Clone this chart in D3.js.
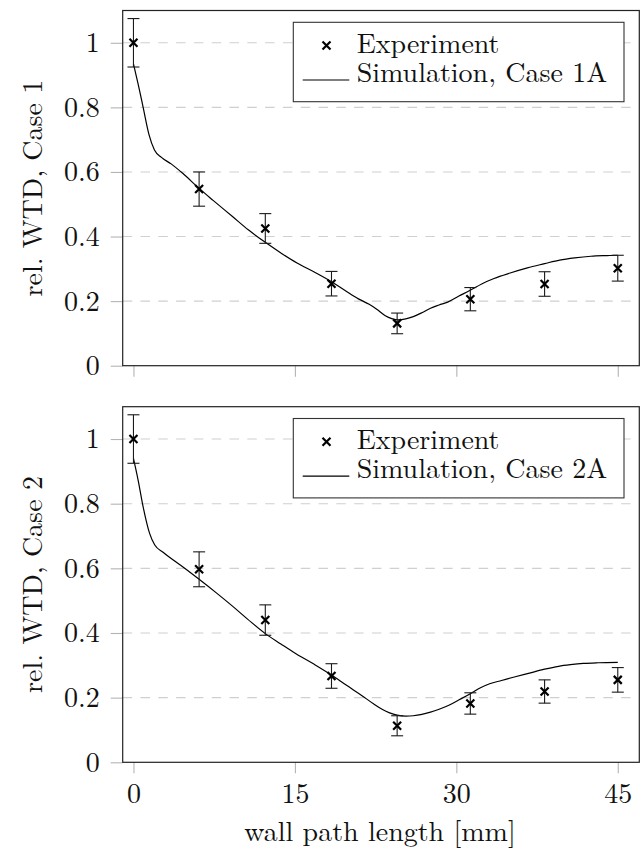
<!DOCTYPE html>
<html>
<head>
<meta charset="utf-8">
<script src="https://cdn.jsdelivr.net/npm/d3@7"></script>
<style>
  html, body { margin: 0; padding: 0; background: #fff; }
  svg { display: block; }
</style>
</head>
<body>
<svg id="chart" width="641" height="849"></svg>
<script>
// ---- data ----
const xTicks = [0, 15, 30, 45];
const xTickLabels = ["0", "15", "30", "45"];
const yTicks = [0, 0.2, 0.4, 0.6, 0.8, 1];
const yTickLabels = ["0", "0.2", "0.4", "0.6", "0.8", "1"];

// measured points (wall path length in mm)
const expX = [0, 6.1, 12.25, 18.4, 24.5, 31.3, 38.2, 45];
const expCase1 = [1.0, 0.547, 0.425, 0.254, 0.131, 0.206, 0.253, 0.302];
const errCase1 = [0.075, 0.053, 0.046, 0.038, 0.032, 0.036, 0.038, 0.040];
const expCase2 = [1.0, 0.597, 0.440, 0.267, 0.113, 0.182, 0.219, 0.255];
const errCase2 = [0.075, 0.054, 0.047, 0.038, 0.031, 0.033, 0.036, 0.038];

// simulated profiles
const simX1 = [0, 0.45, 0.9, 1.45, 1.95, 2.6, 3.5, 4.6, 6.1, 7.4, 9.2, 10.7, 12.25, 13.8, 15.2, 16.8,
  18.4, 19.7, 20.9, 21.9, 22.6, 23.4, 24.0, 24.6, 25.3, 26.0, 26.8, 27.6, 28.4, 29.2, 30.2, 31.2,
  32.4, 33.5, 35.0, 36.6, 38.2, 39.6, 41.0, 42.5, 44.0, 45];
const simCase1 = [0.935, 0.87, 0.80, 0.715, 0.668, 0.645, 0.625, 0.595, 0.549, 0.512, 0.462, 0.42,
  0.382, 0.347, 0.318, 0.29, 0.26, 0.232, 0.207, 0.19, 0.175, 0.155, 0.146, 0.142, 0.145, 0.152,
  0.164, 0.178, 0.188, 0.197, 0.215, 0.232, 0.254, 0.270, 0.287, 0.303, 0.316, 0.327, 0.334,
  0.339, 0.341, 0.342];
const simX2 = [0, 0.45, 0.9, 1.5, 1.98, 2.75, 3.6, 4.6, 6.1, 7.7, 9.2, 10.6, 12.25, 13.7, 15.1, 16.8,
  18.4, 19.8, 21.2, 22.3, 23.1, 23.8, 24.5, 25.3, 26.0, 26.8, 27.6, 28.4, 29.2, 30.3, 31.3, 32.2,
  33.1, 34.2, 35.3, 36.8, 38.2, 39.5, 40.6, 41.8, 43.2, 45];
const simCase2 = [0.94, 0.87, 0.79, 0.708, 0.672, 0.65, 0.628, 0.604, 0.566, 0.524, 0.483, 0.443,
  0.398, 0.366, 0.336, 0.303, 0.27, 0.238, 0.207, 0.181, 0.164, 0.153, 0.146, 0.143, 0.144, 0.148,
  0.155, 0.164, 0.175, 0.194, 0.212, 0.230, 0.243, 0.253, 0.263, 0.276, 0.288, 0.297, 0.302,
  0.306, 0.308, 0.309];

const panels = [
  { yLabel: "rel. WTD, Case 1", simName: "Simulation, Case 1A", exp: expCase1, err: errCase1,
    simX: simX1, sim: simCase1, top: 10.5, bottom: 365.7, xLabels: false },
  { yLabel: "rel. WTD, Case 2", simName: "Simulation, Case 2A", exp: expCase2, err: errCase2,
    simX: simX2, sim: simCase2, top: 406.7, bottom: 762.3, xLabels: true }
];

// ---- layout ----
const FONT = '"Latin Modern Roman", "Liberation Serif", serif';
const FS = "28px";
const left = 122.7, right = 639.3;
const gridColor = "#d0d0d0", tickColor = "#b4b4b4", frameColor = "#222";
const svg = d3.select("#chart");

function styleText(sel) {
  return sel.style("font-family", FONT).style("font-size", FS).attr("fill", "#111");
}

// cross marker centred on the origin
const crossPath = "M-4,-4L4,4M-4,4L4,-4";

const x = d3.scaleLinear().domain([-1, 47]).range([left, right]);

panels.forEach(p => {
  const y = d3.scaleLinear().domain([0, 1.1]).range([p.bottom, p.top]);
  const g = svg.append("g");

  // horizontal dashed grid
  g.append("g").selectAll("line").data(yTicks.filter(d => d > 0)).join("line")
    .attr("x1", left).attr("x2", right)
    .attr("y1", d => y(d)).attr("y2", d => y(d))
    .attr("stroke", gridColor).attr("stroke-width", 1.1)
    .attr("stroke-dasharray", "9.5,8.3");

  // y axis ticks and labels
  const yAxis = d3.axisLeft(y).tickValues(yTicks)
    .tickFormat((d, i) => yTickLabels[i]).tickSize(12).tickPadding(11);
  const ya = g.append("g").attr("transform", `translate(${left},0)`).call(yAxis);
  ya.select(".domain").remove();
  ya.selectAll(".tick line").attr("stroke", tickColor).attr("stroke-width", 1.1);
  styleText(ya.selectAll(".tick text")).attr("dy", "0.32em");

  // x axis ticks (labels on the lower panel only)
  const xAxis = d3.axisBottom(x).tickValues(xTicks)
    .tickFormat((d, i) => p.xLabels ? xTickLabels[i] : "").tickSize(11).tickPadding(12);
  const xa = g.append("g").attr("transform", `translate(0,${p.bottom})`).call(xAxis);
  xa.select(".domain").remove();
  xa.selectAll(".tick line").attr("stroke", tickColor).attr("stroke-width", 1.1);
  styleText(xa.selectAll(".tick text")).attr("dy", "0.644em");

  // frame
  g.append("rect")
    .attr("x", left).attr("y", p.top)
    .attr("width", right - left).attr("height", p.bottom - p.top)
    .attr("fill", "none").attr("stroke", frameColor).attr("stroke-width", 1.2);

  // y axis title
  styleText(g.append("text"))
    .attr("transform", `translate(41.5,${(p.top + p.bottom) / 2}) rotate(-90)`)
    .attr("text-anchor", "middle").text(p.yLabel);

  // simulation curve
  const line = d3.line().x(d => x(d[0])).y(d => y(d[1])).curve(d3.curveMonotoneX);
  g.append("path")
    .datum(p.simX.map((v, i) => [v, p.sim[i]]))
    .attr("d", line).attr("fill", "none").attr("stroke", "#000").attr("stroke-width", 1.2);

  // experiment: error bars + cross markers
  const pts = expX.map((v, i) => ({ x: v, y: p.exp[i], e: p.err[i] }));
  const eb = g.append("g").attr("stroke", "#1a1a1a").attr("stroke-width", 1.1);
  const cap = 6;
  eb.selectAll(".stem").data(pts).join("line")
    .attr("x1", d => x(d.x)).attr("x2", d => x(d.x))
    .attr("y1", d => y(d.y + d.e)).attr("y2", d => y(d.y - d.e));
  eb.selectAll(".capT").data(pts).join("line")
    .attr("x1", d => x(d.x) - cap).attr("x2", d => x(d.x) + cap)
    .attr("y1", d => y(d.y + d.e)).attr("y2", d => y(d.y + d.e));
  eb.selectAll(".capB").data(pts).join("line")
    .attr("x1", d => x(d.x) - cap).attr("x2", d => x(d.x) + cap)
    .attr("y1", d => y(d.y - d.e)).attr("y2", d => y(d.y - d.e));

  g.append("g").selectAll("path").data(pts).join("path")
    .attr("transform", d => `translate(${x(d.x)},${y(d.y)})`)
    .attr("d", crossPath).attr("fill", "none")
    .attr("stroke", "#000").attr("stroke-width", 2.2);

  // legend
  const lg = g.append("g").attr("transform", `translate(0,${p.top})`);
  lg.append("rect").attr("x", 293.3).attr("y", 11.8).attr("width", 330.7).attr("height", 79.4)
    .attr("fill", "#fff").attr("stroke", "#333").attr("stroke-width", 1.1);
  lg.append("path").attr("transform", "translate(326.5,35)").attr("d", crossPath)
    .attr("fill", "none").attr("stroke", "#000").attr("stroke-width", 2.2);
  styleText(lg.append("text")).attr("x", 356.7).attr("y", 42.3).text("Experiment");
  lg.append("line").attr("x1", 302.7).attr("x2", 349.3).attr("y1", 69.5).attr("y2", 69.5)
    .attr("stroke", "#000").attr("stroke-width", 1.2);
  styleText(lg.append("text")).attr("x", 356.7).attr("y", 71.3).text(p.simName);
});

// x axis title
styleText(svg.append("text"))
  .attr("x", 380).attr("y", 840.5).attr("text-anchor", "middle")
  .text("wall path length [mm]");
</script>
</body>
</html>
